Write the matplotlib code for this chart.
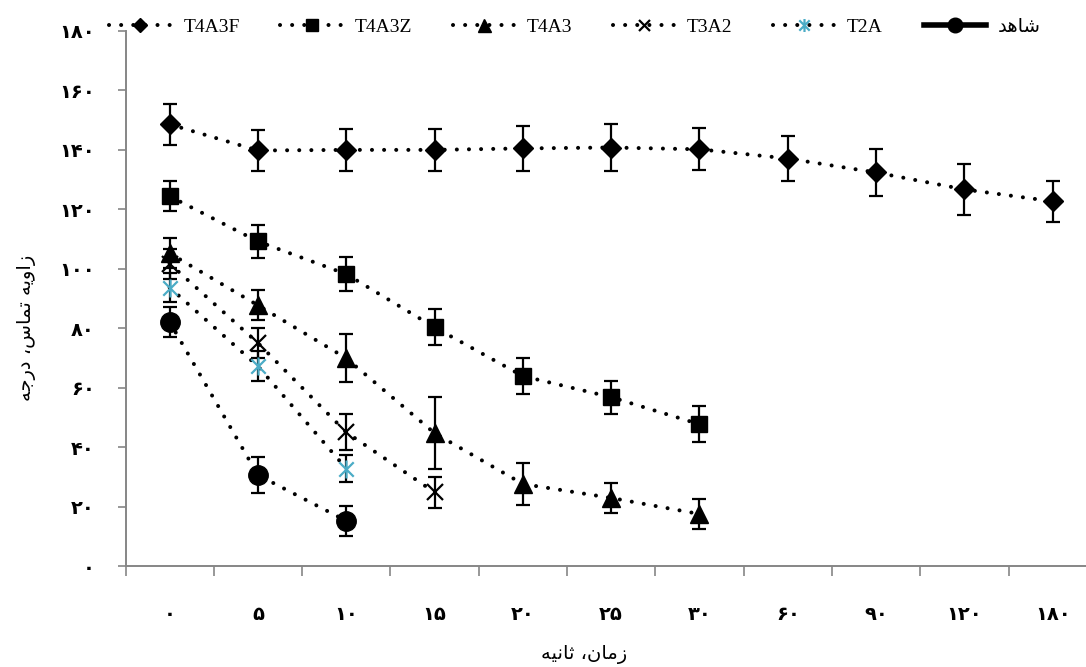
import numpy as np
import matplotlib
matplotlib.use("Agg")
import matplotlib.pyplot as plt
from matplotlib.lines import Line2D
from matplotlib.path import Path

# categories (seconds) and tick labels in Persian digits
times = [0, 5, 10, 15, 20, 25, 30, 60, 90, 120, 180]
x_labels = ["۰", "۵", "۱۰", "۱۵", "۲۰", "۲۵", "۳۰", "۶۰", "۹۰", "۱۲۰", "۱۸۰"]
y_ticks = [0, 20, 40, 60, 80, 100, 120, 140, 160, 180]
y_labels = ["۰", "۲۰", "۴۰", "۶۰", "۸۰", "۱۰۰", "۱۲۰", "۱۴۰", "۱۶۰", "۱۸۰"]

# contact angle (deg) and error
t4a3f = [148.6, 139.8, 140.0, 140.0, 140.5, 140.8, 140.2, 137.1, 132.4, 126.7, 122.7]
t4a3f_err = [7.0, 7.0, 7.0, 7.0, 7.5, 8.0, 7.0, 7.5, 8.0, 8.5, 7.0]
t4a3z = [124.4, 109.2, 98.2, 80.3, 63.9, 56.8, 47.7]
t4a3z_err = [5.0, 5.5, 5.7, 6.0, 6.0, 5.5, 6.0]
t4a3 = [105.2, 87.7, 69.9, 44.7, 27.6, 22.9, 17.5]
t4a3_err = [5.0, 5.0, 8.0, 12.0, 7.0, 5.0, 5.0]
t3a2 = [101.7, 75.0, 45.0, 24.8]
t3a2_err = [5.0, 5.0, 6.0, 5.3]
t2a = [93.7, 67.2, 32.8]
t2a_err = [5.0, 5.0, 4.7]
control = [82.1, 30.6, 15.2]
control_err = [5.0, 6.0, 5.0]

# persian labels, pre-shaped (visual order)
xlabel = "ﻪﻴﻧﺎﺛ ،ﻥﺎﻣﺯ"          # زمان، ثانیه
ylabel = "ﻪﺟﺭﺩ ،ﺱﺎﻤﺗ ﻪﻳﻭﺍﺯ"     # زاویه تماس، درجه
control_name = "ﺪﻫﺎﺷ"            # شاهد

teal = "#4bacc6"
axis_grey = "#868686"

star = Path([(-1, -1), (1, 1), (-1, 1), (1, -1), (0, -1.25), (0, 1.25)],
            [Path.MOVETO, Path.LINETO, Path.MOVETO, Path.LINETO, Path.MOVETO, Path.LINETO])

dot_style = (0, (0.01, 3.0))
lw = 2.9

fig = plt.figure(figsize=(10.86, 6.67), dpi=100)
ax = fig.add_axes([125.5 / 1086, 101 / 667, 971.3 / 1086, 535 / 667])

series = [
    ("T4A3F", t4a3f, t4a3f_err, "D", 10, "black"),
    ("T4A3Z", t4a3z, t4a3z_err, "s", 12, "black"),
    ("T4A3", t4a3, t4a3_err, "^", 13, "black"),
    ("T3A2", t3a2, t3a2_err, "x", 11, "black"),
    ("T2A", t2a, t2a_err, star, 13, teal),
    ("control", control, control_err, "o", 14, "black"),
]

handles = []
for name, vals, err, marker, ms, color in series:
    x = np.arange(len(vals))
    ax.errorbar(x, vals, yerr=err, fmt="none", ecolor="black", elinewidth=1.6,
                capsize=5, capthick=1.6, zorder=2)
    ax.plot(x, vals, linestyle=dot_style, lw=lw, color="black",
            dash_capstyle="round", zorder=3)
    mew = 1.6 if marker in ("x",) or marker is star else 1
    ax.plot(x, vals, linestyle="none", marker=marker, ms=ms, color=color,
            mec=color, mew=mew, zorder=4)
    if name == "control":
        h = Line2D([], [], color="black", lw=4, marker=marker, ms=ms * 0.75, mec=color)
        label = control_name
    else:
        h = Line2D([], [], color="black", lw=lw, linestyle=dot_style,
                   dash_capstyle="round", marker=marker, ms=ms * 0.72,
                   mfc=color, mec=color, mew=mew)
        label = name
    handles.append((h, label))

ax.set_xlim(-0.5, len(times) - 0.5)
ax.set_ylim(0, 180)
ax.set_xticks(np.arange(len(times)) - 0.5)
ax.set_xticklabels([])
ax.set_xticks(np.arange(len(times)), minor=True)
ax.set_xticklabels(x_labels, minor=True, fontsize=14, fontweight="bold", family="DejaVu Sans")
ax.tick_params(axis="x", which="minor", length=0, pad=28)
ax.tick_params(axis="x", which="major", length=7, width=1.2, color=axis_grey, direction="out")
ax.set_yticks(y_ticks)
ax.set_yticklabels(y_labels, fontsize=14, fontweight="bold", family="DejaVu Sans")
ax.tick_params(axis="y", length=6, width=1.2, color=axis_grey, pad=16)

for s in ("top", "right"):
    ax.spines[s].set_visible(False)
for s in ("left", "bottom"):
    ax.spines[s].set_color(axis_grey)
    ax.spines[s].set_linewidth(1.4)

fig.text(584 / 1086, 1 - 655 / 667, xlabel, ha="center", va="center",
         fontsize=14, family="DejaVu Sans")
fig.text(27 / 1086, 1 - 328 / 667, ylabel, ha="center", va="center",
         rotation=90, fontsize=14, family="DejaVu Sans")

fig.legend([h for h, _ in handles], [l for _, l in handles], loc="center",
           bbox_to_anchor=(575 / 1086, 1 - 27 / 667), ncol=6, frameon=False,
           handlelength=3.2, handletextpad=0.6, columnspacing=2.1,
           prop={"family": ["Liberation Serif", "DejaVu Sans"], "size": 14})

fig.savefig("out.png", dpi=100)
